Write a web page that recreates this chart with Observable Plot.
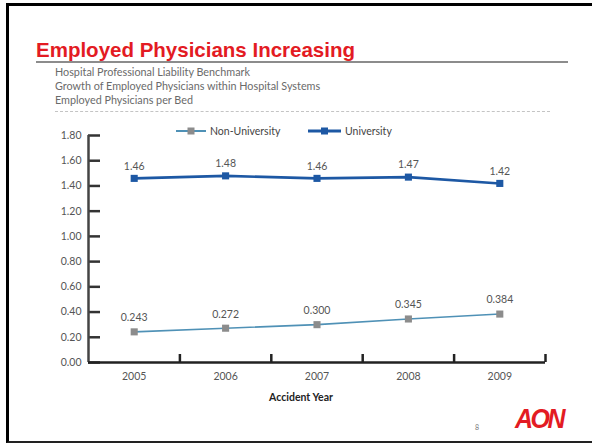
<!DOCTYPE html>
<html>
<head>
<meta charset="utf-8">
<script src="https://cdn.jsdelivr.net/npm/d3@7"></script>
<script src="https://cdn.jsdelivr.net/npm/@observablehq/plot@0.6"></script>
<style>
  html, body { margin: 0; padding: 0; background: #fff; }
  #page { position: relative; width: 592px; height: 445px; overflow: hidden; background: #fff; font-family: Lato, "Open Sans", sans-serif; }
  .abs { position: absolute; white-space: nowrap; }
  #frame { position: absolute; left: 6px; top: 3px; width: 640px; height: 440px; box-sizing: border-box;
           border-left: 3px solid #000; border-top: 3px solid #000; border-bottom: 2px solid #222; }
  #title { left: 36px; top: 40px; font: bold 20.5px/20px "Liberation Sans", Arial, sans-serif; color: #e31b23; }
  #rule { left: 36px; top: 61px; width: 532px; height: 2px; background: #8c8c8c; }
  #sub { left: 55px; top: 65px; font-size: 10.8px; line-height: 14.2px; color: #6a6a6a; }
  #dots { left: 55px; top: 111px; width: 495px; border-top: 1px dashed #c4c4c4; }
  .leg { top: 124px; font-size: 10.5px; line-height: 14px; color: #444; display: flex; align-items: center; }
  .leg svg { margin-right: 4px; }
  #chart { position: absolute; left: 0; top: 118px; }
  #xlabel { left: 241px; top: 390px; width: 120px; text-align: center; font-weight: bold; font-size: 10.5px; line-height: 14px; color: #222; }
  #pagenum { left: 475px; top: 422px; font-size: 7px; line-height: 10px; color: #777; }
  #logo { left: 515px; top: 404px; font: italic bold 25px/26px "Liberation Sans", Arial, sans-serif; color: #e31b23; letter-spacing: -2.5px; transform: scaleY(1.1); transform-origin: top left; }
</style>
</head>
<body>
<div id="page">
  <div id="frame"></div>
  <div id="title" class="abs">Employed Physicians Increasing</div>
  <div id="rule" class="abs"></div>
  <div id="sub" class="abs">Hospital Professional Liability Benchmark<br>Growth of Employed Physicians within Hospital Systems<br>Employed Physicians per Bed</div>
  <div id="dots" class="abs"></div>
  <div id="legNon" class="abs leg" style="left:176px"></div>
  <div id="legUni" class="abs leg" style="left:308px"></div>
  <div id="chart"></div>
  <div id="xlabel" class="abs">Accident Year</div>
  <div id="pagenum" class="abs">8</div>
  <div id="logo" class="abs">AON</div>
</div>
<script>
// Employed physicians per bed, by accident year
const years = [2005, 2006, 2007, 2008, 2009];
const universityValues = [1.46, 1.48, 1.46, 1.47, 1.42];
const nonUniversityValues = [0.243, 0.272, 0.300, 0.345, 0.384];
const yTicks = [0, 0.2, 0.4, 0.6, 0.8, 1.0, 1.2, 1.4, 1.6, 1.8];

const uniColor = "#1d58a4";
const nonLineColor = "#4f91b6";
const nonMarkColor = "#8c8c8c";

const university = years.map((year, i) => ({year, value: universityValues[i]}));
const nonUniversity = years.map((year, i) => ({year, value: nonUniversityValues[i]}));

// tick marks sit on the boundaries between year columns
const bandEdges = years.map(y => y + 0.5);

const fmt2 = d3.format(".2f");
const fmt3 = d3.format(".3f");

// legend swatches: line with a square marker
function swatch(lineColor, markColor, lineWidth, w) {
  const ns = "http://www.w3.org/2000/svg";
  const s = document.createElementNS(ns, "svg");
  s.setAttribute("width", w); s.setAttribute("height", 10);
  const l = document.createElementNS(ns, "line");
  l.setAttribute("x1", 0); l.setAttribute("x2", w); l.setAttribute("y1", 5); l.setAttribute("y2", 5);
  l.setAttribute("stroke", lineColor); l.setAttribute("stroke-width", lineWidth);
  const r = document.createElementNS(ns, "rect");
  r.setAttribute("x", w / 2 - 3.5); r.setAttribute("y", 1.5); r.setAttribute("width", 7); r.setAttribute("height", 7);
  r.setAttribute("fill", markColor);
  s.append(l, r);
  return s;
}
const legNon = document.getElementById("legNon");
legNon.append(swatch(nonLineColor, nonMarkColor, 2, 30), document.createTextNode("Non-University"));
const legUni = document.getElementById("legUni");
legUni.append(swatch(uniColor, uniColor, 3, 33), document.createTextNode("University"));

const chart = Plot.plot({
  width: 592,
  height: 292,
  marginTop: 17,
  marginBottom: 48,
  marginLeft: 88,
  marginRight: 47,
  style: {fontFamily: "Lato, 'Open Sans', sans-serif", fontSize: "10.5px", background: "transparent"},
  x: {type: "linear", domain: [2004.5, 2009.5], label: null},
  y: {domain: [0, 1.8], label: null},
  marks: [
    Plot.axisY({ticks: yTicks, tickFormat: fmt2, tickSize: -12, tickPadding: 19, stroke: "#333", strokeWidth: 2.5, fill: "#555", fontSize: 10.5, label: null}),
    Plot.axisX({ticks: bandEdges, tickFormat: () => "", tickSize: -8, stroke: "#222", strokeWidth: 2.5, label: null}),
    Plot.axisX({ticks: years, tickFormat: d => String(d), tickSize: 0, tickPadding: 10, fill: "#555", fontSize: 10.5, label: null}),
    Plot.ruleX([2004.5], {stroke: "#444", strokeWidth: 2.5}),
    Plot.ruleY([0], {stroke: "#222", strokeWidth: 2.5}),
    Plot.lineY(nonUniversity, {x: "year", y: "value", stroke: nonLineColor, strokeWidth: 1.6}),
    Plot.dot(nonUniversity, {x: "year", y: "value", symbol: "square", r: 4, fill: nonMarkColor}),
    Plot.text(nonUniversity, {x: "year", y: "value", text: d => fmt3(d.value), dy: -14, fill: "#555", fontSize: 10.5}),
    Plot.lineY(university, {x: "year", y: "value", stroke: uniColor, strokeWidth: 2.6}),
    Plot.dot(university, {x: "year", y: "value", symbol: "square", r: 4, fill: uniColor}),
    Plot.text(university, {x: "year", y: "value", text: d => fmt2(d.value), dy: -12, fill: "#555", fontSize: 10.5})
  ]
});
document.getElementById("chart").append(chart);
</script>
</body>
</html>
